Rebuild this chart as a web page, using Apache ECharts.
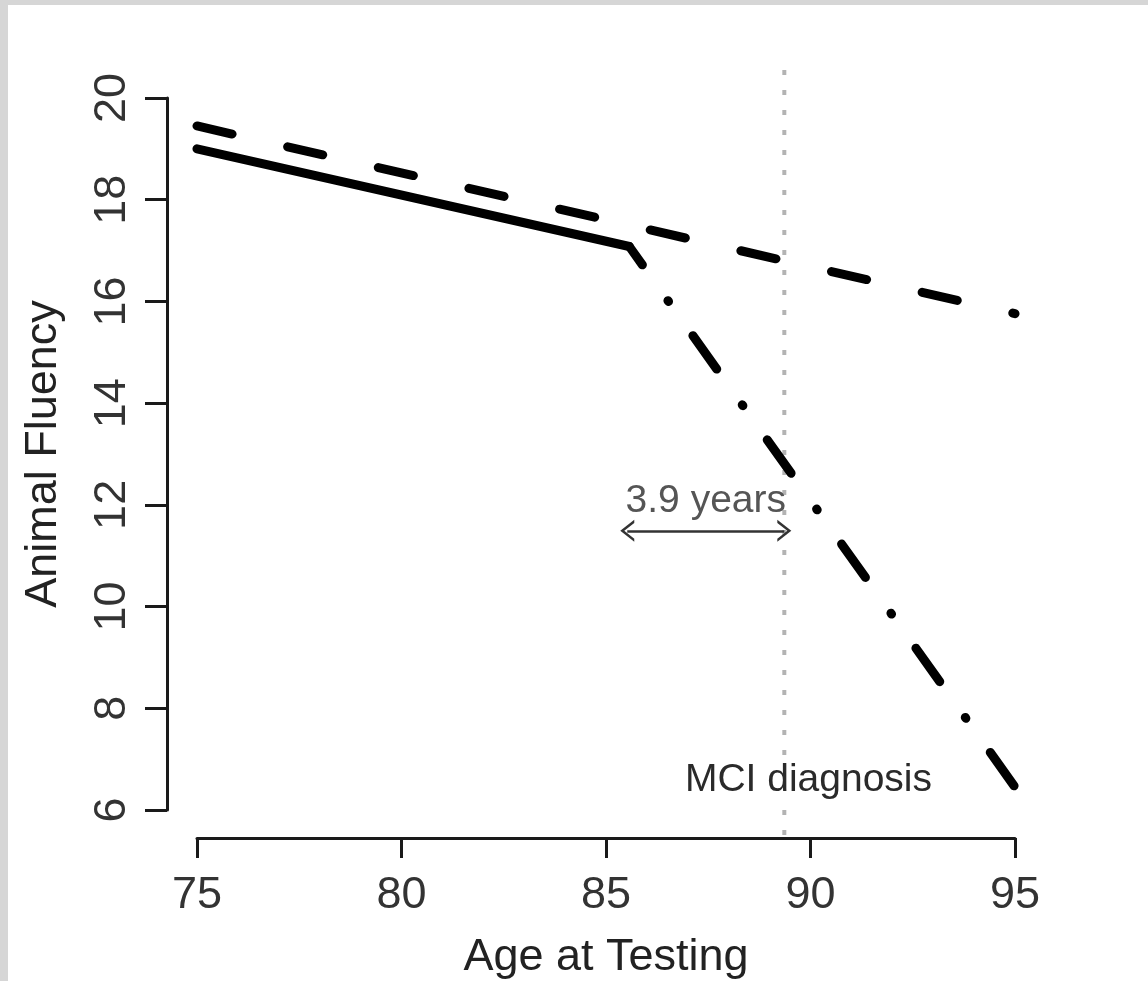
<!DOCTYPE html>
<html>
<head>
<meta charset="utf-8">
<title>Animal Fluency by age</title>
<script src="https://cdn.jsdelivr.net/npm/echarts@6/dist/echarts.min.js"></script>
<style>
  html, body { margin: 0; padding: 0; background: #fff; }
  #chart { width: 1148px; height: 981px; }
</style>
</head>
<body>
<div id="chart"></div>
<script>
// tick values
var xTicks = [75, 80, 85, 90, 95];
var yTicks = [6, 8, 10, 12, 14, 16, 18, 20];

// fitted trajectories
var stableAge = [75, 85.57];
var stableFluency = [19.0, 17.08];
var normalAge = [75, 95];
var normalFluency = [19.45, 15.76];
var declineAge = [85.57, 95];
var declineFluency = [17.08, 6.45];

// MCI diagnosis marker and lead time arrow
var mciAge = 89.36;
var mciSpan = [20.55, 5.37];
var mciLabel = 'MCI diagnosis';
var mciLabelAt = [89.95, 6.58];
var leadAge = [85.52, 89.36];
var leadFluency = 11.49;
var leadLabel = '3.9 years';

function pairs(xs, ys) {
    return xs.map(function (x, i) { return [x, ys[i]]; });
}

var FONT = "'Liberation Sans', Arial, sans-serif";
var chevron = 'path://M0,14 L7,0 L14,14 L12,14 L7,4 L2,14 Z';

var chart = echarts.init(document.getElementById('chart'));
chart.setOption({
    animation: false,
    backgroundColor: '#fff',
    graphic: [
        { type: 'rect', shape: { x: 0, y: 0, width: 8, height: 981 }, style: { fill: '#d6d6d6' } },
        { type: 'rect', shape: { x: 0, y: 0, width: 1148, height: 5 }, style: { fill: '#d6d6d6' } }
    ],
    grid: { left: 197, right: 133, top: 98, bottom: 171, outerBoundsMode: 'none', containLabel: false },
    xAxis: {
        type: 'value',
        min: xTicks[0],
        max: xTicks[xTicks.length - 1],
        interval: 5,
        offset: 28,
        name: 'Age at Testing',
        nameLocation: 'middle',
        nameGap: 97,
        nameTextStyle: { fontFamily: FONT, fontSize: 45, color: '#222' },
        axisLine: { onZero: false, lineStyle: { color: '#1a1a1a', width: 3 } },
        axisTick: { length: 20, lineStyle: { color: '#1a1a1a', width: 3 } },
        axisLabel: { margin: 35, fontFamily: FONT, fontSize: 45, color: '#333' },
        splitLine: { show: false }
    },
    yAxis: {
        type: 'value',
        min: yTicks[0],
        max: yTicks[yTicks.length - 1],
        interval: 2,
        offset: 30,
        name: 'Animal Fluency',
        nameLocation: 'middle',
        nameRotate: 90,
        nameGap: 101,
        nameTextStyle: { fontFamily: FONT, fontSize: 45, color: '#222' },
        axisLine: { show: true, onZero: false, lineStyle: { color: '#1a1a1a', width: 3 } },
        axisTick: { show: true, length: 22, lineStyle: { color: '#1a1a1a', width: 3 } },
        axisLabel: { rotate: 90, margin: 32, fontFamily: FONT, fontSize: 45, color: '#333' },
        splitLine: { show: false }
    },
    series: [
        {
            name: 'MCI',
            type: 'line',
            data: pairs([mciAge, mciAge], mciSpan),
            clip: false,
            symbol: 'none',
            lineStyle: { color: '#b3b3b3', width: 4, type: [5, 15] },
            z: 1,
            markLine: {
                silent: true,
                symbol: [chevron, chevron],
                symbolSize: [22, 14],
                lineStyle: { color: '#333', width: 2.5, type: 'solid' },
                itemStyle: { color: '#333' },
                label: {
                    show: true,
                    position: 'middle',
                    distance: 10,
                    formatter: leadLabel,
                    fontFamily: FONT,
                    fontSize: 39,
                    color: '#555'
                },
                data: [[
                    { coord: [leadAge[0], leadFluency] },
                    { coord: [leadAge[1], leadFluency] }
                ]]
            }
        },
        {
            name: 'stable',
            type: 'line',
            data: pairs(stableAge, stableFluency),
            symbol: 'none',
            lineStyle: { color: '#000', width: 9, cap: 'round' },
            z: 3
        },
        {
            name: 'normal',
            type: 'line',
            data: pairs(normalAge, normalFluency),
            symbol: 'none',
            clip: false,
            lineStyle: { color: '#000', width: 9, cap: 'round', type: [36, 57] },
            z: 3
        },
        {
            name: 'decline',
            type: 'line',
            data: pairs(declineAge, declineFluency),
            symbol: 'none',
            clip: false,
            lineStyle: { color: '#000', width: 9, cap: 'round', type: [1, 42, 41, 44], dashOffset: 61.5 },
            z: 3
        },
        {
            name: 'label',
            type: 'scatter',
            data: [mciLabelAt],
            symbolSize: 0,
            silent: true,
            itemStyle: { opacity: 1 },
            label: {
                show: true,
                position: 'inside',
                formatter: mciLabel,
                fontFamily: FONT,
                fontSize: 39,
                color: '#2a2a2a',
                backgroundColor: '#fff',
                padding: [2, 0]
            },
            z: 4
        }
    ]
});

window.onresize = function () {
    setTimeout(function () {
        chart.resize();
    }, 200);
};
</script>
</body>
</html>
